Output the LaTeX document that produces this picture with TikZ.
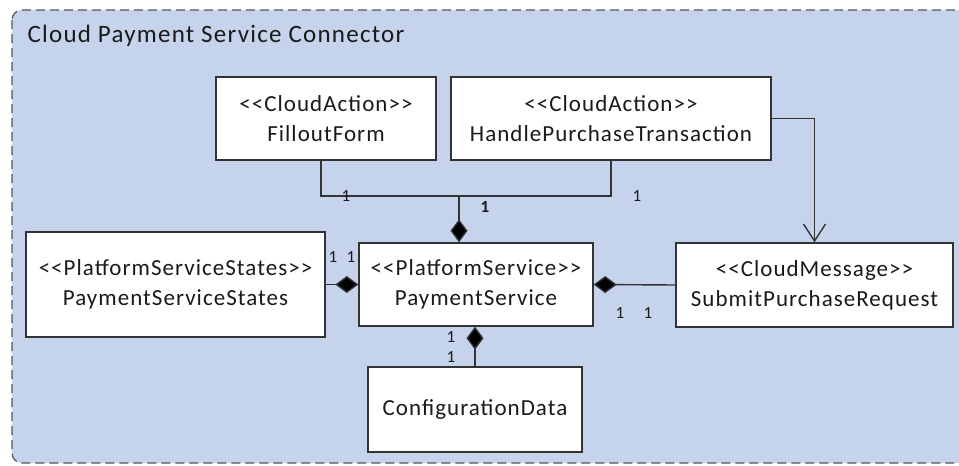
\documentclass[tikz,border=0pt]{standalone}
\usepackage{fontspec}
\setmainfont{Carlito}[Ligatures=TeXOff]
\newfontfamily\boxfont{Carlito}[Ligatures=TeXOff, LetterSpace=4.5]
\newfontfamily\titlefont{Carlito}[Ligatures=TeXOff, LetterSpace=5]
\usetikzlibrary{arrows.meta}
\definecolor{panelblue}{HTML}{C5D4EC}
\definecolor{edgegray}{HTML}{333333}
\definecolor{framegray}{HTML}{555555}
\definecolor{textdark}{HTML}{1A1A1A}
\tikzset{
  classbox/.style={draw=edgegray, line width=1.4pt, fill=white, align=center,
    text=textdark, font=\boxfont\fontsize{23}{30}\selectfont, inner sep=0pt},
  link/.style={draw=edgegray, line width=1.4pt},
  compose/.style={link, -{Diamond[length=23pt,width=17pt,fill=black]}},
  directed/.style={link, -{Straight Barb[length=17pt,width=22pt,line width=1.4pt]}},
  mult/.style={font=\fontsize{17}{17}\selectfont, text=textdark, inner sep=0pt}
}
\begin{document}
\begin{tikzpicture}[x=1pt,y=-1pt]
\useasboundingbox (0,0) rectangle (959,466);
\clip (0,0) rectangle (959,466);
\fill[white] (0,0) rectangle (959,466);
% package frame
\draw[fill=panelblue, draw=framegray, line width=1.2pt, dash pattern=on 9pt off 5pt,
  rounded corners=10pt] (12,10) rectangle (980,463);
\node[anchor=west, text=textdark, font=\titlefont\fontsize{25}{28}\selectfont] (title) at (24,36)
  {Cloud Payment Service Connector};

% classes
\node[classbox, minimum width=220pt, minimum height=83pt] (ff) at (326,118.5)
  {<<CloudAction>>\\FilloutForm};
\node[classbox, minimum width=320pt, minimum height=83pt] (hpt) at (611,118.5)
  {<<CloudAction>>\\HandlePurchaseTransaction};
\node[classbox, minimum width=299pt, minimum height=105pt] (pss) at (175.5,284.5)
  {<<PlatformServiceStates>>\\PaymentServiceStates};
\node[classbox, minimum width=234pt, minimum height=83pt] (ps) at (476,284.5)
  {<<PlatformService>>\\PaymentService};
\node[classbox, minimum width=277pt, minimum height=84pt] (spr) at (814.5,285)
  {<<CloudMessage>>\\SubmitPurchaseRequest};
\node[classbox, minimum width=214pt, minimum height=85pt] (cd) at (475,409.5)
  {ConfigurationData};

% connectors
\coordinate (j) at (459,196);
\draw[link] ([xshift=-5pt]ff.south) |- (j) -| (hpt.south);
\draw[compose] (j) -- (j |- ps.north);
\draw[directed] (hpt.east) -| (spr.north);
\draw[compose] (pss.east) -- (ps.west);
\draw[compose] (spr.west) -- (ps.east);
\draw[compose] (cd.north) -- (cd.north |- ps.south);

% multiplicities
\node[mult] (m1) at (346,196) {1};
\node[mult, font=\bfseries\fontsize{17}{17}\selectfont] (m2) at (485,207) {1};
\node[mult] (m3) at (637,196) {1};
\node[mult] (m4) at (333,257) {1};
\node[mult] (m5) at (351,257) {1};
\node[mult] (m6) at (620,313) {1};
\node[mult] (m7) at (648,313) {1};
\node[mult] (m8) at (451,337) {1};
\node[mult] (m9) at (451,357) {1};
\end{tikzpicture}
\end{document}
